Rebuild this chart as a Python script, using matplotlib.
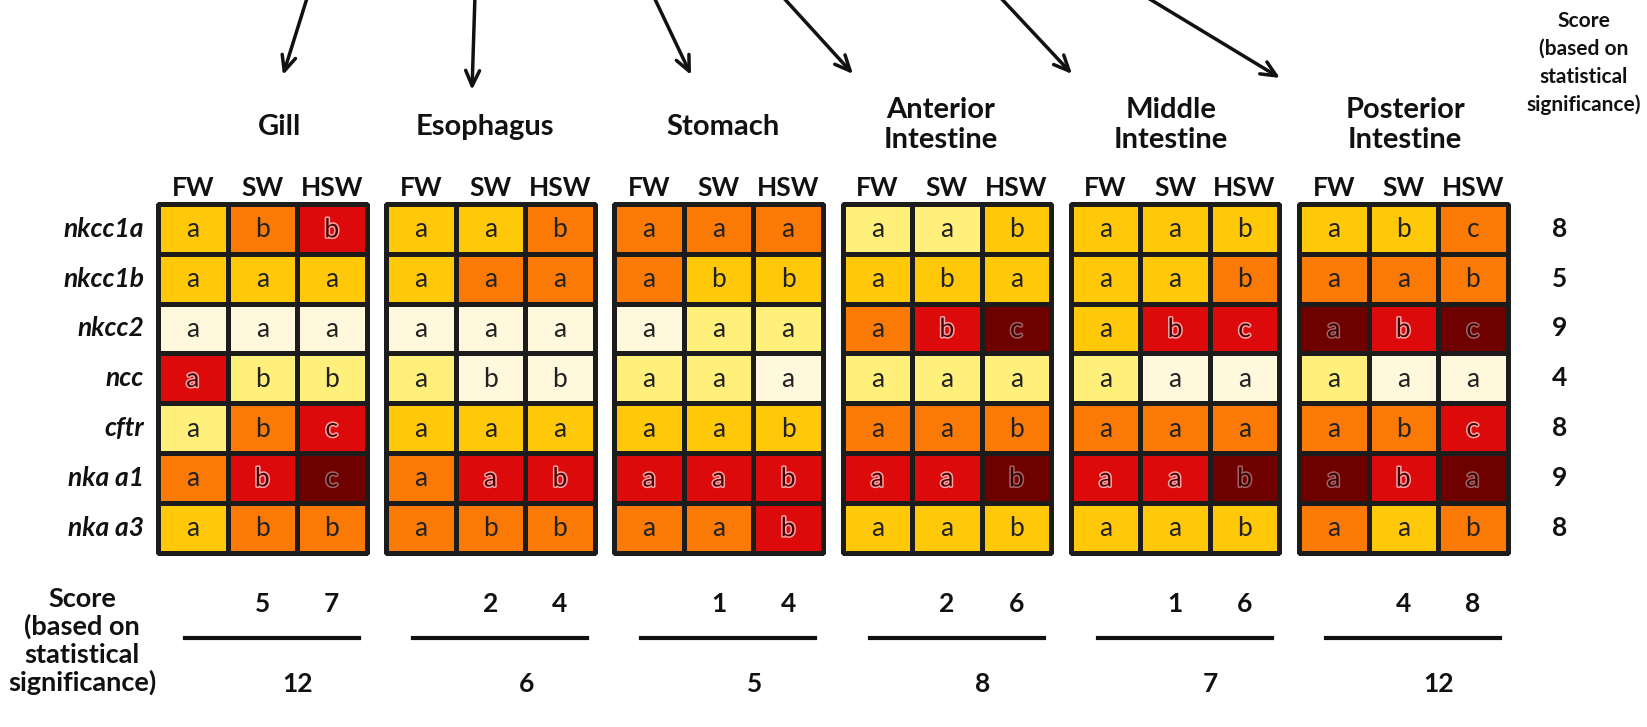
import numpy as np
import matplotlib.pyplot as plt
import matplotlib.patheffects as pe
from matplotlib.colors import ListedColormap

# Tissues, genes and salinity conditions
tissues = ['Gill', 'Esophagus', 'Stomach', 'Anterior\nIntestine',
           'Middle\nIntestine', 'Posterior\nIntestine']
genes = ['nkcc1a', 'nkcc1b', 'nkcc2', 'ncc', 'cftr', 'nka a1', 'nka a3']
conditions = ['FW', 'SW', 'HSW']

# Expression level class (0 = lowest ... 5 = highest), rows = genes, cols = FW/SW/HSW
gill_levels = [[2, 3, 4], [2, 2, 2], [0, 0, 0], [4, 1, 1], [1, 3, 4], [3, 4, 5], [2, 3, 3]]
esophagus_levels = [[2, 2, 3], [2, 3, 3], [0, 0, 0], [1, 0, 0], [2, 2, 2], [3, 4, 4], [3, 3, 3]]
stomach_levels = [[3, 3, 3], [3, 2, 2], [0, 1, 1], [1, 1, 0], [2, 2, 2], [4, 4, 4], [3, 3, 4]]
anterior_levels = [[1, 1, 2], [2, 2, 2], [3, 4, 5], [1, 1, 1], [3, 3, 3], [4, 4, 5], [2, 2, 2]]
middle_levels = [[2, 2, 2], [2, 2, 3], [2, 4, 4], [1, 0, 0], [3, 3, 3], [4, 4, 5], [2, 2, 2]]
posterior_levels = [[2, 2, 3], [3, 3, 3], [5, 4, 5], [1, 0, 0], [3, 3, 4], [5, 4, 5], [3, 2, 3]]
levels = [gill_levels, esophagus_levels, stomach_levels,
          anterior_levels, middle_levels, posterior_levels]

# Statistical significance letters
gill_letters = ['abb', 'aaa', 'aaa', 'abb', 'abc', 'abc', 'abb']
esophagus_letters = ['aab', 'aaa', 'aaa', 'abb', 'aaa', 'aab', 'abb']
stomach_letters = ['aaa', 'abb', 'aaa', 'aaa', 'aab', 'aab', 'aab']
anterior_letters = ['aab', 'aba', 'abc', 'aaa', 'aab', 'aab', 'aab']
middle_letters = ['aab', 'aab', 'abc', 'aaa', 'aaa', 'aab', 'aab']
posterior_letters = ['abc', 'aab', 'abc', 'aaa', 'abc', 'aba', 'aab']
letters = [gill_letters, esophagus_letters, stomach_letters,
           anterior_letters, middle_letters, posterior_letters]

# Scores
gene_scores = [8, 5, 9, 4, 8, 9, 8]
sw_scores = [5, 2, 1, 2, 1, 4]
hsw_scores = [7, 4, 4, 6, 6, 8]
total_scores = [12, 6, 5, 8, 7, 12]

level_colors = ['#fff8dc', '#fff07c', '#ffc90a', '#fb7a06', '#dd0a0c', '#6e0000']
cmap = ListedColormap(level_colors)

FONT = ['Lato', 'DejaVu Sans']
plt.rcParams['font.family'] = FONT
INK = '#111111'

fig = plt.figure(figsize=(16.47, 7.27), dpi=100)
ax = fig.add_axes([0, 0, 1, 1])
ax.set_xlim(0, 1647)
ax.set_ylim(727, 0)
ax.axis('off')

# layout in pixel units
left0, pitch = 158, 228.2
cell_w, cell_h = 69.5, 49.8
top = 204
title_dx = [17, -6, 4, -6, -4, 2]

# Arrows coming from the (cropped) fish drawing
arrows = [((308, -5), (283, 75)), ((475, -5), (472, 90)), ((653, -5), (691, 75)),
          ((781, -5), (853, 74)), ((998, -5), (1072, 74)), ((1143, -5), (1280, 78))]
for start, end in arrows:
    ax.annotate('', xy=end, xytext=start,
                arrowprops=dict(arrowstyle='->,head_length=1.1,head_width=0.5',
                                lw=2.5, color=INK, shrinkA=0, shrinkB=0))

for b, tissue in enumerate(tissues):
    x0 = left0 + b * pitch
    xs = x0 + np.arange(len(conditions) + 1) * cell_w
    ys = top + np.arange(len(genes) + 1) * cell_h
    data = np.array(levels[b])
    ax.pcolormesh(xs, ys, data, cmap=cmap, vmin=-0.5, vmax=5.5,
                  edgecolors='#1c1c1c', linewidth=2.2)
    ax.add_patch(plt.Rectangle((xs[0], ys[0]), xs[-1] - xs[0], ys[-1] - ys[0],
                               fill=False, edgecolor='#1c1c1c', lw=2.5))

    for j, cond in enumerate(conditions):
        cx = (xs[j] + xs[j + 1]) / 2
        ax.text(cx, 188, cond, ha='center', va='center', fontsize=19,
                fontweight='bold', color=INK)
        for i in range(len(genes)):
            cy = (ys[i] + ys[i + 1]) / 2
            lvl = data[i, j]
            if lvl >= 4:
                txt_color = '#4a0000' if lvl == 4 else '#2a0000'
                effects = [pe.withStroke(linewidth=2.2,
                                         foreground='#f6a5a5' if lvl == 4 else '#b06060')]
            else:
                txt_color = '#222222'
                effects = None
            ax.text(cx, cy + 1, letters[b][i][j], ha='center', va='center',
                    fontsize=19, color=txt_color, path_effects=effects)

    cxb = (xs[0] + xs[-1]) / 2 + title_dx[b]
    ty = 127 if '\n' not in tissue else 125
    ax.text(cxb, ty, tissue, ha='center', va='center', fontsize=21,
            fontweight='bold', color=INK, linespacing=1.22)

    # bottom score rows
    sw_x = (xs[1] + xs[2]) / 2
    hsw_x = (xs[2] + xs[3]) / 2
    ax.text(sw_x, 604, str(sw_scores[b]), ha='center', va='center',
            fontsize=19, fontweight='bold', color=INK)
    ax.text(hsw_x, 604, str(hsw_scores[b]), ha='center', va='center',
            fontsize=19, fontweight='bold', color=INK)
    ax.plot([x0 + 27, x0 + 201], [638, 638], color=INK, lw=3)
    ax.text(x0 + 140, 684, str(total_scores[b]), ha='center', va='center',
            fontsize=19, fontweight='bold', color=INK)

# gene labels and per-gene score
for i, g in enumerate(genes):
    cy = top + (i + 0.5) * cell_h
    ax.text(144, cy, g, ha='right', va='center', fontsize=19,
            fontweight='bold', fontstyle='italic', color=INK)
    ax.text(1560, cy, str(gene_scores[i]), ha='center', va='center',
            fontsize=19, fontweight='bold', color=INK)

score_label = 'Score\n(based on\nstatistical\nsignificance)'
ax.text(1584, 63, score_label, ha='center', va='center', fontsize=15,
        fontweight='bold', color=INK, linespacing=1.5)
ax.text(82, 641, score_label, ha='center', va='center', fontsize=19.5,
        fontweight='bold', color=INK, linespacing=1.16)

fig.savefig('out.png', dpi=100)
